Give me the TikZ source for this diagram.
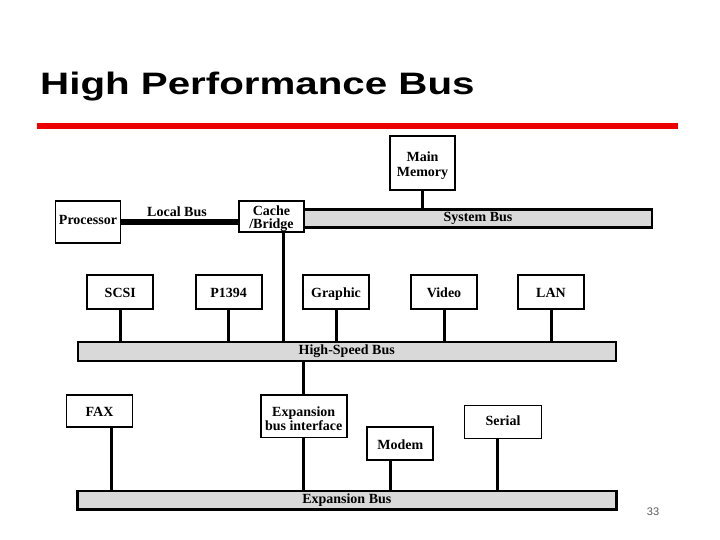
\documentclass[tikz,border=0pt]{standalone}
\usepackage{fontspec}
\setmainfont{Liberation Serif}
\newfontfamily\titlefont{Liberation Sans}
\usetikzlibrary{positioning}

\definecolor{busgray}{RGB}{217,217,217}
\definecolor{slidered}{RGB}{236,0,0}
\definecolor{pagegray}{RGB}{90,90,90}

\begin{document}
\begin{tikzpicture}[x=1pt, y=-1pt,
	box/.style={rectangle, draw, line width=1.8pt, fill=white,
		inner sep=0pt, align=center},
	unit/.style={box, text height=11pt, text depth=0pt,
		font=\fontsize{14}{14}\selectfont\bfseries},
	unittwo/.style={box, font=\fontsize{14}{15}\selectfont\bfseries},
	bus/.style={rectangle, draw, line width=2.4pt, fill=busgray,
		inner sep=0pt, font=\fontsize{14}{14}\selectfont\bfseries},
	link/.style={line width=3pt}]
\useasboundingbox (0,0) rectangle (720,540);

\node[anchor=base west, inner sep=0pt,
	font=\titlefont\fontsize{31}{31}\selectfont\bfseries] (title) at (40,95)
	{\scalebox{1.3}[1]{High Performance Bus}};
\fill[slidered] (37,123) rectangle (678,129.5);

\node[bus, minimum width=348pt, minimum height=18pt] (sysbus) at (478,218.5) {System Bus};
\node[bus, minimum width=538pt, minimum height=19pt] (hsbus) at (346.75,351.5) {High-Speed Bus};
\node[bus, minimum width=539pt, minimum height=18.5pt] (expbus) at (346.8,500.2) {Expansion Bus};

\node[unittwo, minimum width=65pt, minimum height=54pt] (mem) at (422.5,163) {\rule{0pt}{15.5pt}Main\\Memory};
\node[unit, text height=5pt, minimum width=65pt, minimum height=42pt] (proc) at (88,222) {Processor};
\node[unittwo, font=\fontsize{14}{13}\selectfont\bfseries,
	minimum width=65pt, minimum height=31pt] (cache) at (271.5,216.5) {\rule{0pt}{14.5pt}Cache\\/Bridge};

\node[unit, minimum width=66pt, minimum height=34pt] (scsi) at (120.3,292) {SCSI};
\node[unit, minimum width=66pt, minimum height=34pt] (p1394) at (228.7,292) {P1394};
\node[unit, minimum width=66pt, minimum height=34pt] (graphic) at (336,292) {Graphic};
\node[unit, minimum width=66pt, minimum height=34pt] (video) at (444,292) {Video};
\node[unit, minimum width=66pt, minimum height=34pt] (lan) at (551,292) {LAN};

\node[unit, minimum width=66pt, minimum height=32pt] (fax) at (99.5,411) {FAX};
\node[unittwo, font=\fontsize{14}{14}\selectfont\bfseries,
	minimum width=86pt, minimum height=42.5pt] (expbi) at (303.7,416.3) {\rule{0pt}{15.5pt}Expansion\\bus interface};
\node[unit, text height=13pt, minimum width=66pt, minimum height=33pt] (modem) at (400.3,443.3) {Modem};
\node[unit, text height=6pt, minimum width=77pt, minimum height=33pt] (serial) at (503,422) {Serial};

\draw[line width=6pt] (proc.east) -- (proc.east -| cache.west);
\node[font=\fontsize{14}{14}\selectfont\bfseries] (localbus) at (177,212) {Local Bus};

\draw[link] (mem.south) -- (mem.south |- sysbus.north);
\draw[link] ([xshift=11.5pt]cache.south) -- ([xshift=11.5pt]cache.south |- hsbus.north);
\foreach \dev in {scsi, p1394, graphic, video, lan}
	\draw[link] (\dev.south) -- (\dev.south |- hsbus.north);
\draw[link] (expbi.north) -- (expbi.north |- hsbus.south);
\draw[link] ([xshift=11.5pt]fax.south) -- ([xshift=11.5pt]fax.south |- expbus.north);
\draw[link] (expbi.south) -- (expbi.south |- expbus.north);
\draw[link] ([xshift=-9.6pt]modem.south) -- ([xshift=-9.6pt]modem.south |- expbus.north);
\draw[link] ([xshift=-5.3pt]serial.south) -- ([xshift=-5.3pt]serial.south |- expbus.north);

\node[font=\titlefont\fontsize{11}{11}\selectfont, text=pagegray] (pagenum) at (653,512) {33};
\end{tikzpicture}
\end{document}
